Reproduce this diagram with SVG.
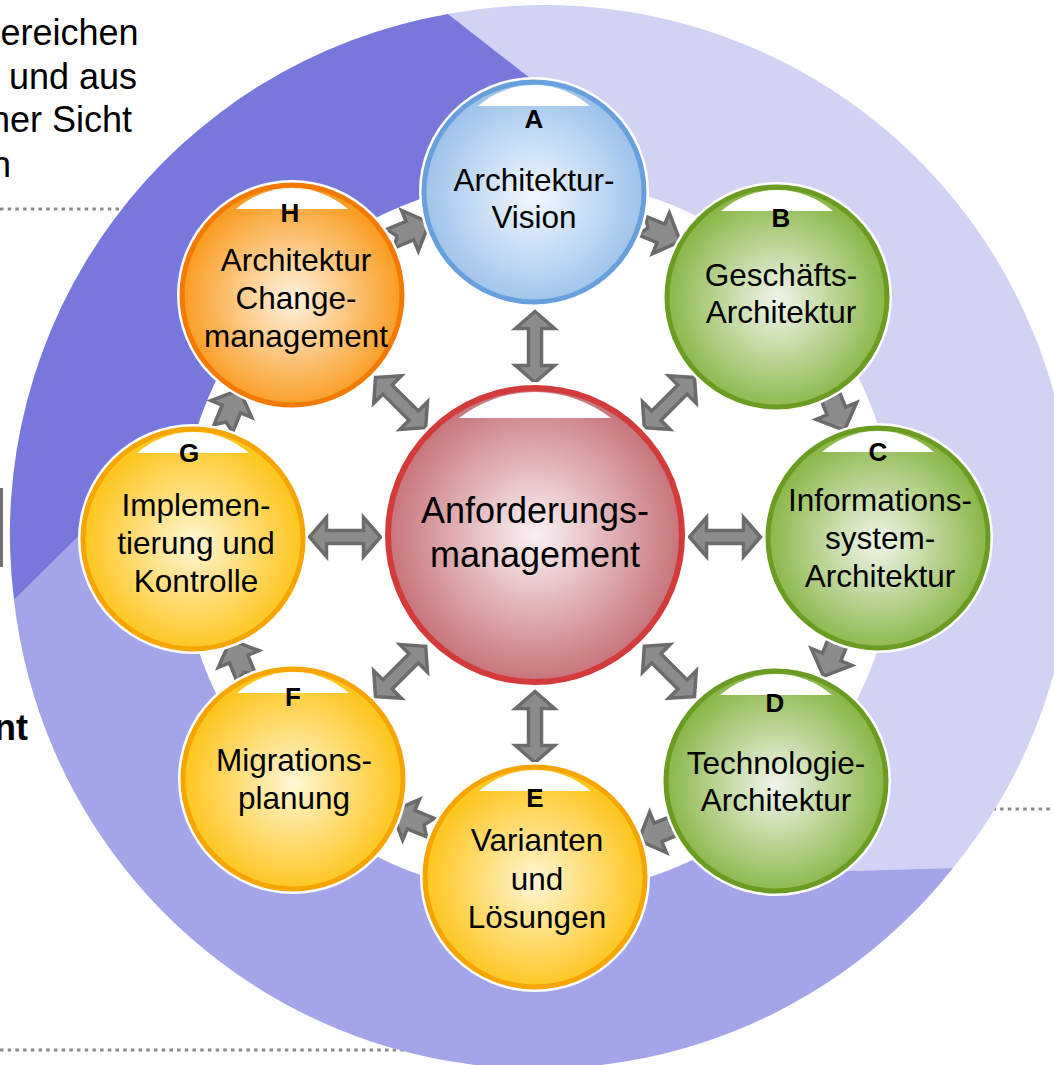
<svg xmlns="http://www.w3.org/2000/svg" width="1054" height="1065" viewBox="0 0 1054 1065">
<style>
.t{font-family:"Liberation Sans",Arial,sans-serif;fill:#000}
.lbl{font-size:26px;font-weight:bold;text-anchor:middle}
.nt{font-size:31.5px;text-anchor:middle}
.side{font-size:36px}
.dot{stroke:#8a8a8a;stroke-width:3;stroke-dasharray:3.5 4.2;fill:none}
.arr{fill:#8c8c8c;stroke:#6b6b6b;stroke-width:3.5;stroke-linejoin:miter}
.halo{fill:#fff}
.hl{fill:#fff}
</style>
<defs>
<radialGradient id="gRed" cx="50%" cy="50%" r="50%"><stop offset="0" stop-color="#f8edef"/><stop offset="0.15" stop-color="#f3e0e3"/><stop offset="1" stop-color="#c77479"/></radialGradient>
<radialGradient id="gBlue" cx="50%" cy="52%" r="50%"><stop offset="0" stop-color="#f1f6fd"/><stop offset="0.15" stop-color="#e6f0fb"/><stop offset="1" stop-color="#9ec3eb"/></radialGradient>
<radialGradient id="gGreen" cx="50%" cy="52%" r="50%"><stop offset="0" stop-color="#f0f5e9"/><stop offset="0.15" stop-color="#e2ecd3"/><stop offset="1" stop-color="#8ab748"/></radialGradient>
<radialGradient id="gYellow" cx="50%" cy="52%" r="50%"><stop offset="0" stop-color="#fff7da"/><stop offset="0.15" stop-color="#ffefb8"/><stop offset="1" stop-color="#fec51c"/></radialGradient>
<radialGradient id="gOrange" cx="50%" cy="52%" r="50%"><stop offset="0" stop-color="#fff3e2"/><stop offset="0.15" stop-color="#ffe6c4"/><stop offset="1" stop-color="#f99c22"/></radialGradient>
<path id="dbl" d="M -35.5,0 L -18.5,-19.5 L -18.5,-6.5 L 18.5,-6.5 L 18.5,-19.5 L 35.5,0 L 18.5,19.5 L 18.5,6.5 L -18.5,6.5 L -18.5,19.5 Z"/>
<path id="sgl" d="M -20,-10 L 1,-10 L 1,-22 L 22,0 L 1,22 L 1,10 L -20,10 L -13,0 Z"/>
</defs>
<rect width="1054" height="1065" fill="#fff"/>
<g id="dotted-lines">
<line class="dot" x1="0" y1="209" x2="200" y2="209"/>
<line class="dot" x1="900" y1="809" x2="1054" y2="809"/>
<line class="dot" x1="0" y1="1050" x2="500" y2="1050"/>
</g>
<g id="side-text">
<text class="t side" x="138.5" y="45" text-anchor="end">ereichen</text>
<text class="t side" x="137" y="89" text-anchor="end">und aus</text>
<text class="t side" x="132" y="132" text-anchor="end">ner Sicht</text>
<text class="t side" x="11" y="177" text-anchor="end">n</text>
<text class="t side" x="28" y="740" text-anchor="end" font-weight="bold">nt</text>
<rect x="0" y="488" width="3" height="79" fill="#707070"/>
</g>
<g id="ring">
<path fill="#d2d2f4" d="M 448,14 A 528 528 0 0 1 953,868 L 847,871 L 777.5,803 A 358 358 0 0 0 600.2,184.4 L 530,78 Z"/>
<path fill="#a4a4e8" d="M 953,868 A 528 528 0 0 1 14,600 L 80,535 L 181.4,505.8 A 358 358 0 0 0 777.5,803 L 847,871 Z"/>
<path fill="#7878dc" d="M 14,600 A 528 528 0 0 1 448,14 L 530,78 L 600.2,184.4 A 358 358 0 0 0 181.4,505.8 L 80,535 Z"/>
</g>
<g id="connectors">
<use href="#dbl" class="arr" transform="translate(535,347) rotate(90)"/>
<use href="#dbl" class="arr" transform="translate(535,727) rotate(90)"/>
<use href="#dbl" class="arr" transform="translate(725,537)"/>
<use href="#dbl" class="arr" transform="translate(345,537)"/>
<use href="#dbl" class="arr" transform="translate(669.4,402.6) rotate(-45)"/>
<use href="#dbl" class="arr" transform="translate(669.4,671.4) rotate(45)"/>
<use href="#dbl" class="arr" transform="translate(400.6,671.4) rotate(-45)"/>
<use href="#dbl" class="arr" transform="translate(400.6,402.6) rotate(45)"/>
<use href="#sgl" class="arr" transform="translate(409,231) rotate(-22.5)"/>
<use href="#sgl" class="arr" transform="translate(660,233) rotate(22.5)"/>
<use href="#sgl" class="arr" transform="translate(836,410) rotate(67.5)"/>
<use href="#sgl" class="arr" transform="translate(832,656) rotate(112.5)"/>
<use href="#sgl" class="arr" transform="translate(659,832) rotate(157.5)"/>
<use href="#sgl" class="arr" transform="translate(412,820) rotate(202.5)"/>
<use href="#sgl" class="arr" transform="translate(239,660) rotate(247.5)"/>
<use href="#sgl" class="arr" transform="translate(231,410) rotate(-67.5)"/>
</g>
<g id="node-center">
<circle class="halo" cx="535" cy="535" r="153"/>
<circle cx="535" cy="535" r="147" fill="url(#gRed)" stroke="#d33a3a" stroke-width="6"/>
<path class="hl" d="M 459,418 A 124 124 0 0 1 611,418 Z"/>
<text class="t" x="535" y="523" font-size="36" text-anchor="middle">Anforderungs-</text>
<text class="t" x="535" y="567" font-size="36" text-anchor="middle">management</text>
</g>
<g id="node-A">
<circle class="halo" cx="534" cy="192" r="115"/>
<circle cx="534" cy="192" r="110" fill="url(#gBlue)" stroke="#68a0de" stroke-width="5"/>
<path class="hl" d="M 478,106 A 85 85 0 0 1 590,106 Z"/>
<text class="t lbl" x="534" y="128">A</text>
<text class="t nt" x="534" y="191">Architektur-</text>
<text class="t nt" x="534" y="228">Vision</text>
</g>
<g id="node-B">
<circle class="halo" cx="777" cy="297" r="115"/>
<circle cx="777" cy="297" r="110" fill="url(#gGreen)" stroke="#6b9c22" stroke-width="5"/>
<path class="hl" d="M 721,211 A 85 85 0 0 1 833,211 Z"/>
<text class="t lbl" x="781" y="227">B</text>
<text class="t nt" x="781" y="286">Geschäfts-</text>
<text class="t nt" x="781" y="323">Architektur</text>
</g>
<g id="node-C">
<circle class="halo" cx="878" cy="538" r="115"/>
<circle cx="878" cy="538" r="110" fill="url(#gGreen)" stroke="#6b9c22" stroke-width="5"/>
<path class="hl" d="M 822,452 A 85 85 0 0 1 934,452 Z"/>
<text class="t lbl" x="878" y="461">C</text>
<text class="t nt" x="880" y="511">Informations-</text>
<text class="t nt" x="880" y="549">system-</text>
<text class="t nt" x="880" y="587">Architektur</text>
</g>
<g id="node-D">
<circle class="halo" cx="776" cy="781" r="115"/>
<circle cx="776" cy="781" r="110" fill="url(#gGreen)" stroke="#6b9c22" stroke-width="5"/>
<path class="hl" d="M 720,695 A 85 85 0 0 1 832,695 Z"/>
<text class="t lbl" x="775" y="712">D</text>
<text class="t nt" x="776" y="774">Technologie-</text>
<text class="t nt" x="776" y="811">Architektur</text>
</g>
<g id="node-E">
<circle class="halo" cx="535" cy="877" r="115"/>
<circle cx="535" cy="877" r="110" fill="url(#gYellow)" stroke="#f5a400" stroke-width="5"/>
<path class="hl" d="M 479,791 A 85 85 0 0 1 591,791 Z"/>
<text class="t lbl" x="535" y="807">E</text>
<text class="t nt" x="537" y="851">Varianten</text>
<text class="t nt" x="537" y="890">und</text>
<text class="t nt" x="537" y="928">Lösungen</text>
</g>
<g id="node-F">
<circle class="halo" cx="293" cy="779" r="115"/>
<circle cx="293" cy="779" r="110" fill="url(#gYellow)" stroke="#f5a400" stroke-width="5"/>
<path class="hl" d="M 237,693 A 85 85 0 0 1 349,693 Z"/>
<text class="t lbl" x="293" y="706">F</text>
<text class="t nt" x="294" y="771">Migrations-</text>
<text class="t nt" x="294" y="809">planung</text>
</g>
<g id="node-G">
<circle class="halo" cx="193" cy="539" r="115"/>
<circle cx="193" cy="539" r="110" fill="url(#gYellow)" stroke="#f5a400" stroke-width="5"/>
<path class="hl" d="M 137,453 A 85 85 0 0 1 249,453 Z"/>
<text class="t lbl" x="189" y="462">G</text>
<text class="t nt" x="196" y="516">Implemen-</text>
<text class="t nt" x="196" y="554">tierung und</text>
<text class="t nt" x="196" y="592">Kontrolle</text>
</g>
<g id="node-H">
<circle class="halo" cx="292" cy="295" r="115"/>
<circle cx="292" cy="295" r="110" fill="url(#gOrange)" stroke="#f27a00" stroke-width="5"/>
<path class="hl" d="M 236,209 A 85 85 0 0 1 348,209 Z"/>
<text class="t lbl" x="290" y="222">H</text>
<text class="t nt" x="296" y="271">Architektur</text>
<text class="t nt" x="296" y="309">Change-</text>
<text class="t nt" x="296" y="347">management</text>
</g>
</svg>
